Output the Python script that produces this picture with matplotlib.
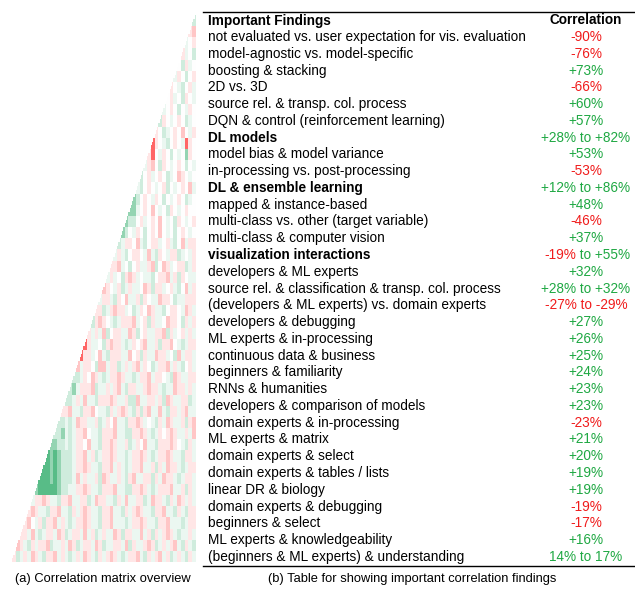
import numpy as np
import matplotlib.pyplot as plt
from matplotlib.colors import LinearSegmentedColormap

plt.rcParams['font.family'] = ['Liberation Sans', 'DejaVu Sans']

# table content
findings = [
    "not evaluated vs. user expectation for vis. evaluation",
    "model-agnostic vs. model-specific",
    "boosting & stacking",
    "2D vs. 3D",
    "source rel. & transp. col. process",
    "DQN & control (reinforcement learning)",
    "DL models",
    "model bias & model variance",
    "in-processing vs. post-processing",
    "DL & ensemble learning",
    "mapped & instance-based",
    "multi-class vs. other (target variable)",
    "multi-class & computer vision",
    "visualization interactions",
    "developers & ML experts",
    "source rel. & classification & transp. col. process",
    "(developers & ML experts) vs. domain experts",
    "developers & debugging",
    "ML experts & in-processing",
    "continuous data & business",
    "beginners & familiarity",
    "RNNs & humanities",
    "developers & comparison of models",
    "domain experts & in-processing",
    "ML experts & matrix",
    "domain experts & select",
    "domain experts & tables / lists",
    "linear DR & biology",
    "domain experts & debugging",
    "beginners & select",
    "ML experts & knowledgeability",
    "(beginners & ML experts) & understanding",
]
correlations = [
    "-90%", "-76%", "+73%", "-66%", "+60%", "+57%", "+28% to +82%",
    "+53%", "-53%", "+12% to +86%", "+48%", "-46%", "+37%",
    "-19% to +55%", "+32%", "+28% to +32%", "-27% to -29%", "+27%",
    "+26%", "+25%", "+24%", "+23%", "+23%", "-23%", "+21%", "+20%",
    "+19%", "+19%", "-19%", "-17%", "+16%", "14% to 17%",
]
bold_rows = ["DL models", "DL & ensemble learning", "visualization interactions"]

# correlation matrix overview, coarse blocks of 3x3 cells estimated by eye
# R r p . q g h G  = strong neg ... strong pos
levels = {'R': -0.6, 'r': -0.22, 'p': -0.1, '.': 0.0, 'q': 0.08, 'g': 0.2,
          'h': 0.45, 'G': 0.7}
block_rows = [
    "g",
    "pr",
    "q.p",
    "pq.g",
    ".gpq.",
    "qp.g. p",
    "p.qg. pq",
    ".pq.g p.q",
    "q.p.g .qp.",
    "gp.q. p.gq.",
    "p.gq. p.r.q p",
    "Rp.qg .p.qR p.",
    "pR.qp .g.q. hp.",
    "qpr.g p.q.p .g.q",
    "g.pq. p.gq. rp.q.",
    "qg.p. q.pg. q.p.r q",
    "hg.p. qp.g. q.p.g q.",
    "hhq.p .r.q. gp.q. p..",
    "hgg.p q.p.r .q.gp .q.p",
    "hg.qp .g.p. r.q.g .p.q.",
    "gqpp. rqg.p pq.pq g.rqp p",
    "qpqg. pp.qr qgp.q ppgq. qp",
    "pprq. g.pqq prg.r pq.pp gqp",
    "qpq.g prpq. qqg.p prqpg p.qq",
    "rp.qp gqpqq .rpgp pq.pq g.rqp",
    "qppqg p.rqq pgp.q qrpp. gqqpp p",
    "ppgqp rppq. gqp.r pqqg. pp.qr pq",
    "gprp. qgqpp prq.p gpqq. rpp.g pqp",
    "pqpqr g.ppq qrpg. pqqpp rgpq. pqpq",
    "Rpqq. gprpp qgqp. prqqp gppr. qgqpp",
    "Rppq. rqgpp pqqr. pgpqq rppq. grqpp q",
    "rqpp. grrqp pgqpq prqp. gqppr qpqg. pq",
    "ggqp. rpqgq pprpq qgqpp rqpp. qgrpq qpp",
    "ghqpp prgqq pqprq gppqq prppq gqqrp pqpq",
    "ggqpq rqqgp pprpq qpggr qqppq pgrpq qppgq",
    "pprqq gppr. qqgpq prpqg pgprq qrqgp pqprq q",
    "ggqgq rppqq pgqp. rqqgp prpq. qgpqr pqqpg pr",
    "gghqg qppr. qqgpp prqqg gpprp qgqp. prpqq pqr",
    "hhggq gqpp. rqqgp prpqq pgqp. rqqgp pprp. qgpq",
    "GhGhg ggqpp rqpgq pprpq qgqpp rpqgq pprpq qgppq",
    "GGhGh gggqp prpqq gpprq pqgqp prqqp gpqrp pqgqp p",
    "GGGhG hgggq rqpqq pgrpq qpqgp rqqpp gpqrp pqgqp pq",
    "hGGGG Ghggq qpprp qqgpp prqqg gpprp qgqpp prqqp gpq",
    "qpprp qqgpp rqqpp gqrpp qqgpq rqqpp gqrpp qgpqr pqpq",
    "prpqq gpprq qgpqp rpqqg pprqq gpqpr pqqgp prqqg pqgpp",
    "pr.qp gpprq pqgqp prpqq gpprq qqgqp prpqq gpprq qqgqp p",
    "ppqrq gqppq rpgqp pqrqp gqpqq rpgpp qqrqp gpqpr pqgqq pq",
    "rpqgp qpprg qqpqr pgqpp qrpgq qppqr gpqqp rpgqp qprqg pqg",
    "pgqpq rpqgp prqpq gqpqr pqgpq prpqg qpprq gpqpr qpgqp qgpq",
]

W, H = 635, 590
RED = '#f01c1c'
GREEN = '#1fa843'


def fy(y):
    return 1 - y / H


def fx(x):
    return x / W


fig = plt.figure(figsize=(W / 100, H / 100), dpi=100)

# ---- (a) matrix
nb = len(block_rows)
M = np.full((nb, nb), np.nan)
for br, s in enumerate(block_rows):
    vals = [levels[c] for c in s.replace(" ", "")]
    M[br, nb - len(vals):] = vals
C = np.repeat(np.repeat(M, 3, axis=0), 3, axis=1)
n = C.shape[0]
ii, jj = np.indices(C.shape)
C[jj < n - 1 - ii] = np.nan

cmap = LinearSegmentedColormap.from_list('rg', ['#ff0000', '#ffffff', '#12a055'])
cmap.set_bad('white')
ax = fig.add_axes([fx(12), fy(562), fx(184), 547 / H])
ax.imshow(C, cmap=cmap, vmin=-1, vmax=1, aspect='auto', interpolation='nearest')
ax.axis('off')

# ---- (b) table
fs = 9.8
fig.add_artist(plt.Line2D([fx(203), fx(635)], [fy(12), fy(12)], color='black', lw=1.0))
fig.add_artist(plt.Line2D([fx(203), fx(635)], [fy(566), fy(566)], color='black', lw=1.0))
fig.text(fx(208), fy(20.5), "Important Findings", fontsize=fs, fontweight='bold', va='center')
fig.text(fx(586), fy(20.5), "Correlation", fontsize=fs, fontweight='bold', va='center', ha='center')

col_x = 586
for i, (name, corr) in enumerate(zip(findings, correlations)):
    y = fy(37 + i * 16.77)
    weight = 'bold' if name in bold_rows else 'normal'
    fig.text(fx(208), y, name, fontsize=fs, fontweight=weight, va='center')
    parts = corr.split(" to ")
    if len(parts) == 2 and parts[0][0] != parts[1][0]:
        # mixed sign range: first part red, rest green
        fig.text(fx(576), y, parts[0], fontsize=fs, color=RED, va='center', ha='right')
        fig.text(fx(576), y, " to " + parts[1], fontsize=fs, color=GREEN, va='center', ha='left')
    else:
        c = RED if corr.startswith('-') else GREEN
        fig.text(fx(col_x), y, corr, fontsize=fs, color=c, va='center', ha='center')

# captions
cfs = 9.3
fig.text(fx(103), fy(579), "(a) Correlation matrix overview", fontsize=cfs, ha='center', va='center')
fig.text(fx(412), fy(579), "(b) Table for showing important correlation findings",
         fontsize=cfs, ha='center', va='center')

fig.savefig('out.png', dpi=100)
